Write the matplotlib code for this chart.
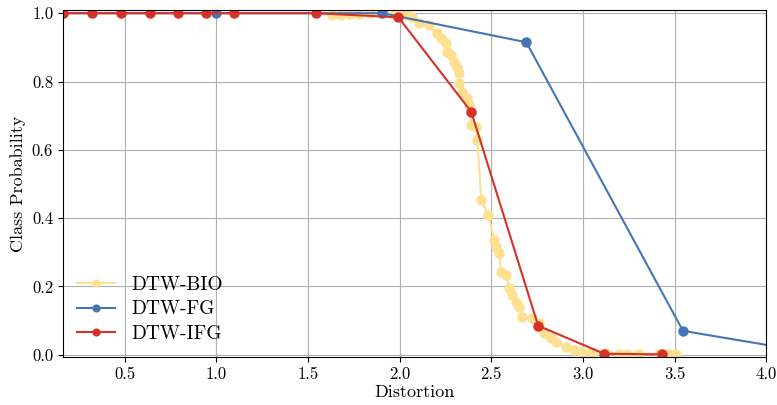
import numpy as np
import matplotlib
matplotlib.use("Agg")
import matplotlib.pyplot as plt

plt.rcParams["font.family"] = "serif"
plt.rcParams["font.serif"] = ["cmr10", "DejaVu Serif"]
plt.rcParams["mathtext.fontset"] = "cm"
plt.rcParams["axes.formatter.use_mathtext"] = True

# DTW-BIO (many points)
bio_x = [1.63, 1.68, 1.73, 1.78, 1.84, 1.90, 1.95, 2.009, 2.042, 2.069, 2.108,
         2.162, 2.206, 2.227, 2.255, 2.260, 2.282, 2.298, 2.315, 2.325, 2.325,
         2.342, 2.369, 2.380, 2.391, 2.418, 2.424, 2.445, 2.483, 2.516, 2.527,
         2.543, 2.554, 2.582, 2.598, 2.614, 2.636, 2.652, 2.669, 2.723, 2.761,
         2.789, 2.827, 2.854, 2.909, 2.952, 2.996, 3.050, 3.127, 3.197, 3.241,
         3.306, 3.415, 3.470, 3.508]
bio_y = [0.995, 0.996, 0.997, 0.998, 1.0, 1.0, 1.0, 0.998, 0.994, 0.988, 0.971,
         0.965, 0.942, 0.927, 0.912, 0.886, 0.877, 0.857, 0.842, 0.825, 0.795,
         0.769, 0.751, 0.731, 0.673, 0.667, 0.629, 0.453, 0.409, 0.336, 0.316,
         0.298, 0.243, 0.234, 0.196, 0.175, 0.155, 0.140, 0.111, 0.108, 0.094,
         0.064, 0.050, 0.038, 0.023, 0.015, 0.009, 0.009, 0.006, 0.003, 0.003,
         0.003, 0.003, 0.002, 0.001]

# DTW-FG
fg_x = [0.162, 1.0, 1.906, 2.691, 3.546, 4.2]
fg_y = [1.0, 1.0, 1.0, 0.915, 0.070, 0.011]

# DTW-IFG
ifg_x = [0.162, 0.320, 0.478, 0.636, 0.789, 0.941, 1.094, 1.541, 1.993,
         2.391, 2.756, 3.116, 3.432]
ifg_y = [1.0, 1.0, 1.0, 1.0, 1.0, 1.0, 1.0, 1.0, 0.988,
         0.711, 0.085, 0.003, 0.001]

fig = plt.figure(figsize=(7.77, 4.05), dpi=100)
ax = fig.add_axes([0.081, 0.119, 0.905, 0.856])

ax.plot(bio_x, bio_y, "-o", color="#fee090", lw=1.5, ms=6.5, label="DTW-BIO")
ax.plot(fg_x, fg_y, "-o", color="#4575b4", lw=1.5, ms=6.5, label="DTW-FG")
ax.plot(ifg_x, ifg_y, "-o", color="#d73027", lw=1.5, ms=6.5, label="DTW-IFG")

ax.set_xlim(0.162, 4.0)
ax.set_ylim(-0.006, 1.009)
ax.set_xticks(np.arange(0.5, 4.01, 0.5))
ax.set_yticks(np.arange(0, 1.01, 0.2))
ax.set_xticklabels(["%.1f" % v for v in np.arange(0.5, 4.01, 0.5)])
ax.set_yticklabels(["%.1f" % v for v in np.arange(0, 1.01, 0.2)])
ax.tick_params(labelsize=12)
ax.grid(True, color="#b0b0b0", lw=0.8)
ax.set_axisbelow(True)
ax.set_xlabel("Distortion", fontsize=13, labelpad=2)
ax.set_ylabel("Class Probability", fontsize=13)
ax.legend(loc="lower left", frameon=False, fontsize=14, handlelength=2.0,
          markerscale=0.75, labelspacing=0.35, borderaxespad=0.3)

fig.savefig("out.png", dpi=100)
